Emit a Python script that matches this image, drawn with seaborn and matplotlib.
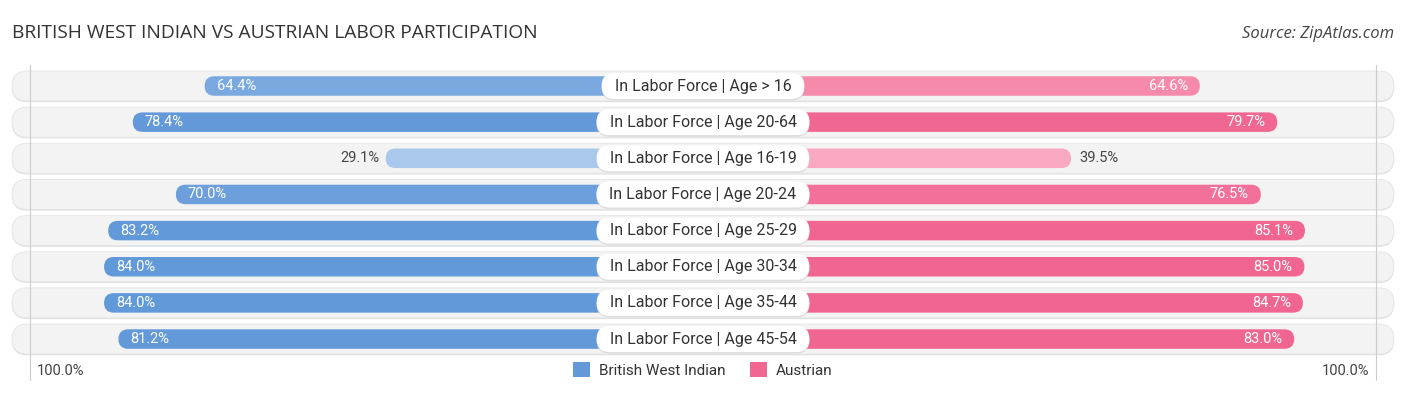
import matplotlib
matplotlib.use("Agg")
import matplotlib.pyplot as plt
import seaborn as sns
import pandas as pd
from matplotlib.patches import FancyBboxPatch, Patch

# ---- data ----
categories = [
    "In Labor Force | Age > 16",
    "In Labor Force | Age 20-64",
    "In Labor Force | Age 16-19",
    "In Labor Force | Age 20-24",
    "In Labor Force | Age 25-29",
    "In Labor Force | Age 30-34",
    "In Labor Force | Age 35-44",
    "In Labor Force | Age 45-54",
]
british_west_indian = [64.4, 78.4, 29.1, 70.0, 83.2, 84.0, 84.0, 81.2]
austrian = [64.6, 79.7, 39.5, 76.5, 85.1, 85.0, 84.7, 83.0]
series_names = ["British West Indian", "Austrian"]
bwi_colors = ["#79a9df", "#6399d9", "#a9c8ec", "#6c9fdb", "#6199d9", "#6199d9", "#6199d9", "#6399d9"]
aus_colors = ["#f58aaa", "#f06892", "#f8a9c1", "#f27099", "#f06690", "#f06690", "#f06690", "#f06690"]
axis_label = "100.0%"
title = "BRITISH WEST INDIAN VS AUSTRIAN LABOR PARTICIPATION"
source = "Source: ZipAtlas.com"

# ---- geometry (pixel-based layout) ----
W, H = 1406, 395
PX = 5.13          # pixels per percentage point
CX = 701.7         # center pixel
GAP = 166.7 / PX   # half-gap between zero points (data units)
ROW0, ROWSTEP = 86, 36.15
ASP = (1 / ROWSTEP) / (1 / PX)   # y-units per x-unit for equal pixel radius

sns.set_theme(style="white")
plt.rcParams["font.family"] = ["Roboto", "DejaVu Sans"]

fig = plt.figure(figsize=(W / 100, H / 100), dpi=100)
ax = fig.add_axes([0, 0, 1, 1])

def px2x(p):
    return (p - CX) / PX

def py2y(p):
    return (p - ROW0) / ROWSTEP

df = pd.DataFrame({
    "cat": categories,
    "left": [-(GAP + v) for v in british_west_indian],
    "right": [GAP + v for v in austrian],
})

bar_h = 19.5 / ROWSTEP
sns.barplot(data=df, x="left", y="cat", hue="cat", palette=bwi_colors, width=bar_h,
            legend=False, orient="h", ax=ax, saturation=1)
sns.barplot(data=df, x="right", y="cat", hue="cat", palette=aus_colors, width=bar_h,
            legend=False, orient="h", ax=ax, saturation=1)

# replace rectangles with rounded bars
for p in list(ax.patches):
    x, y, w, h = p.get_x(), p.get_y(), p.get_width(), p.get_height()
    fc = p.get_facecolor()
    p.remove()
    if w < 0:
        x, w = x + w, -w
    r = (h / ASP) / 2
    ax.add_patch(FancyBboxPatch((x, y), w, h, boxstyle=f"round,pad=0,rounding_size={r}",
                                mutation_aspect=ASP, fc=fc, ec="none", zorder=3))

ax.set_xlim(px2x(0), px2x(W))
ax.set_ylim(py2y(H), py2y(0))
ax.set_axis_off()

# background pills
pill_h = 30 / ROWSTEP
x0, x1 = px2x(12), px2x(1394)
for i in range(len(categories)):
    rr = (pill_h / ASP) / 2
    ax.add_patch(FancyBboxPatch((x0, i - pill_h / 2 + 1.2 / ROWSTEP), x1 - x0, pill_h,
                                boxstyle=f"round,pad=0,rounding_size={rr}", mutation_aspect=ASP,
                                fc="#e0e0e0", ec="none", zorder=0.5))
    ax.add_patch(FancyBboxPatch((x0, i - pill_h / 2), x1 - x0, pill_h,
                                boxstyle=f"round,pad=0,rounding_size={rr}", mutation_aspect=ASP,
                                fc="#f3f3f3", ec="#e4e4e4", lw=0.6, zorder=1))

# 100% guide lines
for gx in (30, 1376):
    ax.plot([px2x(gx)] * 2, [py2y(65), py2y(380)], color="#cccccc", lw=0.8, zorder=2)

# value labels
for i, (a, b) in enumerate(zip(british_west_indian, austrian)):
    lx = -(GAP + a)
    if a > 45:
        ax.text(lx + 12 / PX, i, f"{a:.1f}%", ha="left", va="center", color="white", fontsize=10.5, zorder=6)
    else:
        ax.text(lx - 6 / PX, i, f"{a:.1f}%", ha="right", va="center", color="#444444", fontsize=10.5, zorder=6)
    rx = GAP + b
    if b > 45:
        ax.text(rx - 12 / PX, i, f"{b:.1f}%", ha="right", va="center", color="white", fontsize=10.5, zorder=6)
    else:
        ax.text(rx + 8 / PX, i, f"{b:.1f}%", ha="left", va="center", color="#444444", fontsize=10.5, zorder=6)

# center labels with white rounded boxes
fig.canvas.draw()
renderer = fig.canvas.get_renderer()
lc = px2x(703)
for i, c in enumerate(categories):
    t = ax.text(lc, i, c, ha="center", va="center", color="#333333", fontsize=11.5, zorder=8)
    bb = t.get_window_extent(renderer)
    wpx = bb.width + 26
    bw = wpx / PX
    bh = 26 / ROWSTEP
    rr = (bh / ASP) / 2
    ax.add_patch(FancyBboxPatch((lc - bw / 2, i - bh / 2 + 1.5 / ROWSTEP), bw, bh,
                                boxstyle=f"round,pad=0,rounding_size={rr}", mutation_aspect=ASP,
                                fc="#d0d0d0", ec="none", alpha=0.6, zorder=6.5))
    ax.add_patch(FancyBboxPatch((lc - bw / 2, i - bh / 2), bw, bh,
                                boxstyle=f"round,pad=0,rounding_size={rr}", mutation_aspect=ASP,
                                fc="white", ec="none", zorder=7))

# axis end labels
ax.text(px2x(37), py2y(371), axis_label, ha="left", va="center", color="#444444", fontsize=10.5)
ax.text(px2x(1369), py2y(371), axis_label, ha="right", va="center", color="#444444", fontsize=10.5)

# title / source
fig.text(12 / W, 1 - 33 / H, title, ha="left", va="center", color="#333333", fontsize=13.8,
         family=["Open Sans", "DejaVu Sans"])
fig.text(1394 / W, 1 - 34 / H, source, ha="right", va="center", color="#444444", fontsize=12,
         style="italic", family=["Open Sans", "DejaVu Sans"])

# legend
handles = [Patch(facecolor=bwi_colors[1], edgecolor="none", label=series_names[0]),
           Patch(facecolor=aus_colors[1], edgecolor="none", label=series_names[1])]
fig.legend(handles=handles, loc="center", bbox_to_anchor=(0.5, 1 - 370 / H), ncol=2, frameon=False,
           fontsize=11, handlelength=1.1, handleheight=1.1, handletextpad=0.6, columnspacing=1.6,
           labelcolor="#333333")

fig.savefig("out.png", dpi=100)
